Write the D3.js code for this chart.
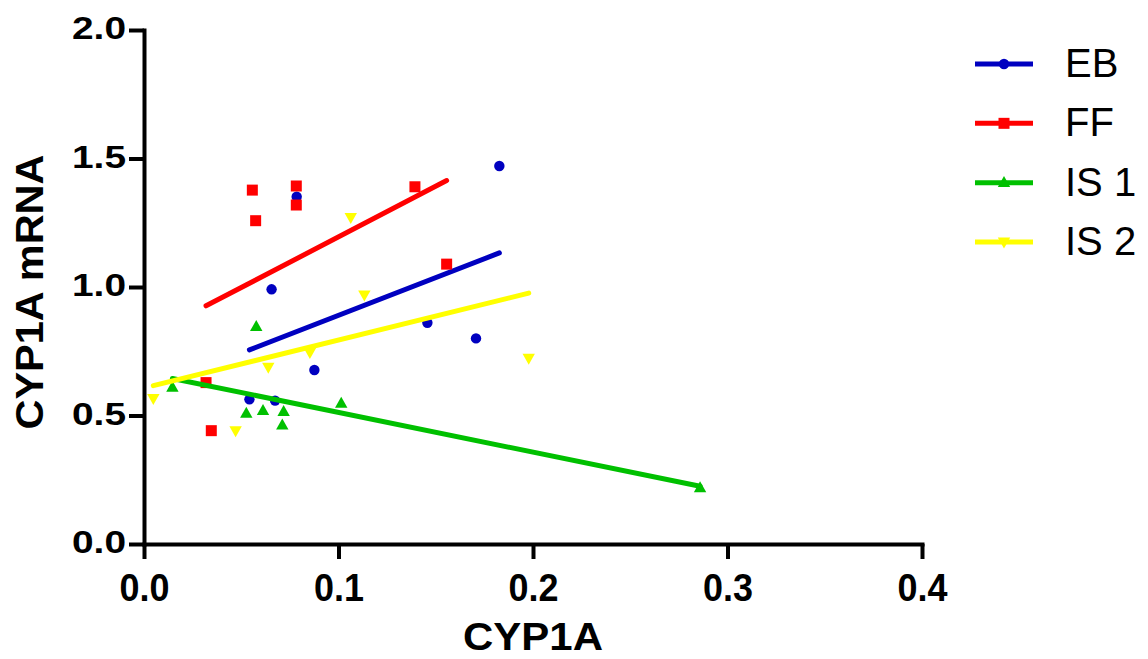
<!DOCTYPE html>
<html>
<head>
<meta charset="utf-8">
<script src="https://cdn.jsdelivr.net/npm/d3@7"></script>
<style>
  html, body { margin: 0; padding: 0; background: #fff; }
  svg { display: block; }
  text { font-family: "Liberation Sans", Arial, Helvetica, sans-serif; }
</style>
</head>
<body>
<svg id="chart" width="1148" height="659"></svg>
<script>
// ---- Data ----
const seriesNames = ["EB", "FF", "IS 1", "IS 2"];
const seriesColors = ["#0000c0", "#ff0000", "#00c000", "#ffff00"];
const seriesSymbols = ["circle", "square", "triangleUp", "triangleDown"];

const ebX = [0.1827, 0.0785, 0.0656, 0.1457, 0.1707, 0.0876, 0.0542, 0.0674];
const ebY = [1.471, 1.351, 0.991, 0.861, 0.800, 0.677, 0.563, 0.558];

const ffX = [0.0557, 0.0783, 0.0783, 0.0574, 0.1393, 0.1556, 0.0319, 0.0346];
const ffY = [1.377, 1.393, 1.319, 1.258, 1.390, 1.089, 0.628, 0.441];

const is1X = [0.0146, 0.0577, 0.0526, 0.0612, 0.0718, 0.0711, 0.1014, 0.2859];
const is1Y = [0.610, 0.846, 0.508, 0.519, 0.515, 0.463, 0.547, 0.218];

const is2X = [0.0048, 0.0471, 0.0639, 0.0853, 0.1063, 0.1133, 0.1978];
const is2Y = [0.567, 0.441, 0.688, 0.746, 1.271, 0.969, 0.723];

const xTicks = [0.0, 0.1, 0.2, 0.3, 0.4];
const yTicks = [0.0, 0.5, 1.0, 1.5, 2.0];
const xTitle = "CYP1A";
const yTitle = "CYP1A mRNA";

// ---- Build ----
const seriesX = [ebX, ffX, is1X, is2X];
const seriesY = [ebY, ffY, is1Y, is2Y];
const series = seriesNames.map((name, i) => ({
  name, color: seriesColors[i], symbol: seriesSymbols[i],
  points: seriesX[i].map((x, j) => ({ x, y: seriesY[i][j] }))
}));

const svg = d3.select("#chart");
const x = d3.scaleLinear().domain([0, 0.4]).range([144, 922]);
const y = d3.scaleLinear().domain([0, 2]).range([544, 30]);

const fontStack = '"Liberation Sans", Arial, Helvetica, sans-serif';

// Axes
const xAxis = svg.append("g").attr("transform", `translate(0,${y(0)})`)
  .call(d3.axisBottom(x).tickValues(xTicks).tickFormat(d3.format(".1f")).tickSize(15).tickSizeOuter(0));
const yAxis = svg.append("g").attr("transform", `translate(${x(0)},0)`)
  .call(d3.axisLeft(y).tickValues(yTicks).tickFormat(d3.format(".1f")).tickSize(15).tickSizeOuter(0));

[xAxis, yAxis].forEach(g => {
  g.select(".domain").attr("stroke", "#000").attr("stroke-width", 4).attr("stroke-linecap", "square");
  g.selectAll(".tick line").attr("stroke", "#000").attr("stroke-width", 4);
});

xAxis.selectAll(".tick text")
  .attr("y", 57).attr("dy", 0)
  .attr("fill", "#000")
  .style("font-family", fontStack)
  .style("font-weight", "bold")
  .style("font-size", "39px")
  .attr("textLength", 50).attr("lengthAdjust", "spacingAndGlyphs");

yAxis.selectAll(".tick text")
  .attr("x", -18).attr("dy", "0.28em")
  .attr("fill", "#000")
  .style("font-family", fontStack)
  .style("font-weight", "bold")
  .style("font-size", "32px")
  .attr("textLength", 54).attr("lengthAdjust", "spacingAndGlyphs");

// Axis titles
svg.append("text")
  .attr("x", x(0.2)).attr("y", 650)
  .attr("text-anchor", "middle")
  .style("font-weight", "bold").style("font-size", "38px")
  .attr("textLength", 140).attr("lengthAdjust", "spacingAndGlyphs")
  .text(xTitle);

svg.append("text")
  .attr("transform", "translate(43,292) rotate(-90)")
  .attr("text-anchor", "middle")
  .style("font-weight", "bold").style("font-size", "38px")
  .attr("textLength", 275).attr("lengthAdjust", "spacingAndGlyphs")
  .text(yTitle);

// Symbols
function symbolPath(kind) {
  if (kind === "circle") return d3.symbol(d3.symbolCircle, 85)();
  if (kind === "square") return d3.symbol(d3.symbolSquare, 121)();
  const w = 6.2, h = 11;
  if (kind === "triangleUp") return `M0,${-h * 0.6}L${w},${h * 0.4}L${-w},${h * 0.4}Z`;
  return `M0,${h * 0.6}L${w},${-h * 0.4}L${-w},${-h * 0.4}Z`;
}

// Linear regression
function fit(pts) {
  const mx = d3.mean(pts, d => d.x), my = d3.mean(pts, d => d.y);
  const sxy = d3.sum(pts, d => (d.x - mx) * (d.y - my));
  const sxx = d3.sum(pts, d => (d.x - mx) ** 2);
  const b = sxy / sxx, a = my - b * mx;
  const [x0, x1] = d3.extent(pts, d => d.x);
  return [{ x: x0, y: a + b * x0 }, { x: x1, y: a + b * x1 }];
}

const line = d3.line().x(d => x(d.x)).y(d => y(d.y));
const plot = svg.append("g");

series.forEach(s => {
  const g = plot.append("g");
  g.selectAll("path.pt").data(s.points).join("path")
    .attr("class", "pt")
    .attr("transform", d => `translate(${x(d.x)},${y(d.y)})`)
    .attr("d", symbolPath(s.symbol))
    .attr("fill", s.color);
  g.append("path")
    .datum(fit(s.points))
    .attr("d", line)
    .attr("fill", "none")
    .attr("stroke", s.color)
    .attr("stroke-width", 5)
    .attr("stroke-linecap", "round");
});

// Legend
const legend = svg.append("g");
const rowY = d3.scalePoint().domain(seriesNames).range([64, 242]);
series.forEach(s => {
  const ly = rowY(s.name);
  legend.append("line")
    .attr("x1", 975).attr("x2", 1033).attr("y1", ly).attr("y2", ly)
    .attr("stroke", s.color).attr("stroke-width", 5);
  legend.append("path")
    .attr("transform", `translate(1004,${ly})`)
    .attr("d", symbolPath(s.symbol))
    .attr("fill", s.color);
  legend.append("text")
    .attr("x", 1065).attr("y", ly + 13)
    .style("font-size", "40px")
    .attr("fill", "#000")
    .text(s.name);
});
</script>
</body>
</html>
